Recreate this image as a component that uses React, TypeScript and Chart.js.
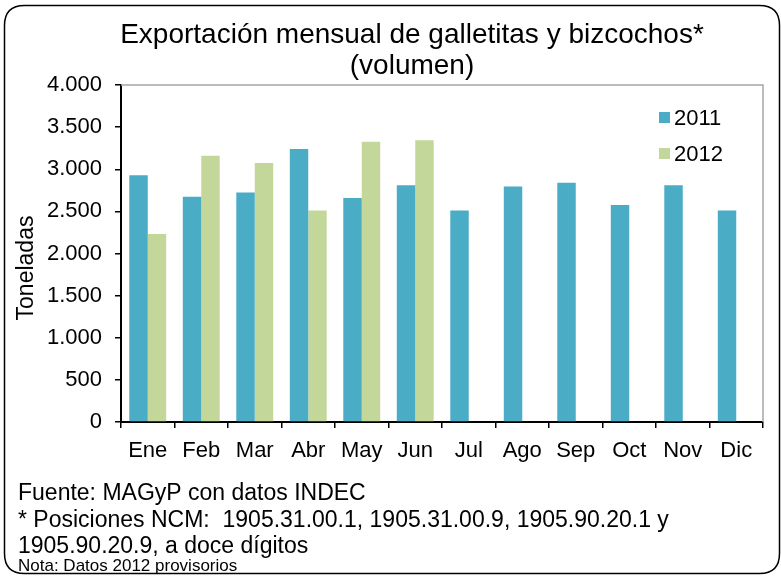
import React, { useEffect, useRef } from "react";
import { Chart, registerables } from "chart.js";

Chart.register(...registerables);

const months = ["Ene", "Feb", "Mar", "Abr", "May", "Jun", "Jul", "Ago", "Sep", "Oct", "Nov", "Dic"];
const values2011 = [2930, 2675, 2725, 3240, 2660, 2810, 2510, 2795, 2840, 2575, 2810, 2510];
const values2012 = [2230, 3160, 3075, 2510, 3325, 3345, null, null, null, null, null, null];
const seriesLabels = ["2011", "2012"];
const seriesColors = ["#4BACC6", "#C4D79B"];
const titleLines = ["Exportación mensual de galletitas y bizcochos*", "(volumen)"];
const yAxisTitle = "Toneladas";
const footnotes = [
  "Fuente: MAGyP con datos INDEC",
  "* Posiciones NCM:  1905.31.00.1, 1905.31.00.9, 1905.90.20.1 y",
  "1905.90.20.9, a doce dígitos",
];
const nota = "Nota: Datos 2012 provisorios";

const FONT = "Arial, 'Liberation Sans', sans-serif";

const fmt = (v: number) => String(v).replace(/\B(?=(\d{3})+(?!\d))/g, ".");

const decorPlugin = {
  id: "decor",
  beforeDraw(chart: any) {
    const ctx = chart.ctx;
    ctx.save();
    ctx.fillStyle = "#fff";
    ctx.fillRect(0, 0, chart.width, chart.height);
    const x0 = 4.5, y0 = 5.5, x1 = 779.5, y1 = 573.5, r = 20;
    ctx.beginPath();
    ctx.moveTo(x0 + r, y0);
    ctx.lineTo(x1 - r, y0);
    ctx.quadraticCurveTo(x1, y0, x1, y0 + r);
    ctx.lineTo(x1, y1 - r);
    ctx.quadraticCurveTo(x1, y1, x1 - r, y1);
    ctx.lineTo(x0 + r, y1);
    ctx.quadraticCurveTo(x0, y1, x0, y1 - r);
    ctx.lineTo(x0, y0 + r);
    ctx.quadraticCurveTo(x0, y0, x0 + r, y0);
    ctx.closePath();
    ctx.strokeStyle = "#000";
    ctx.lineWidth = 1.5;
    ctx.stroke();
    ctx.restore();
  },
  beforeDatasetsDraw(chart: any) {
    const { ctx, chartArea } = chart;
    ctx.save();
    ctx.strokeStyle = "#a6a6a6";
    ctx.lineWidth = 1.5;
    ctx.beginPath();
    ctx.moveTo(chartArea.left, chartArea.top);
    ctx.lineTo(chartArea.right, chartArea.top);
    ctx.lineTo(chartArea.right, chartArea.bottom);
    ctx.stroke();
    ctx.restore();
  },
  afterDraw(chart: any) {
    const ctx = chart.ctx;
    ctx.save();
    ctx.fillStyle = "#000";
    ctx.font = `28px ${FONT}`;
    ctx.textAlign = "center";
    ctx.textBaseline = "alphabetic";
    ctx.fillText(titleLines[0], 412, 43);
    ctx.fillText(titleLines[1], 412, 74);
    ctx.save();
    ctx.translate(33, 268);
    ctx.rotate(-Math.PI / 2);
    ctx.font = `23px ${FONT}`;
    ctx.textAlign = "center";
    ctx.textBaseline = "alphabetic";
    ctx.fillText(yAxisTitle, 0, 0);
    ctx.restore();
    const ds = chart.data.datasets;
    ctx.font = `22px ${FONT}`;
    ctx.textAlign = "left";
    ctx.textBaseline = "middle";
    ds.forEach((d: any, i: number) => {
      const cy = 118 + i * 36;
      ctx.fillStyle = d.backgroundColor;
      ctx.fillRect(659, cy - 6, 11, 11);
      ctx.fillStyle = "#000";
      ctx.fillText(d.label, 674, cy + 1);
    });
    ctx.font = `23px ${FONT}`;
    ctx.textBaseline = "alphabetic";
    footnotes.forEach((t, i) => ctx.fillText(t, 18, 500 + i * 26.5));
    ctx.font = `17px ${FONT}`;
    ctx.fillText(nota, 18, 571);
    ctx.restore();
  },
};

export default function App() {
  const ref = useRef<HTMLCanvasElement>(null);
  useEffect(() => {
    if (!ref.current) return;
    const chart = new Chart(ref.current, {
      type: "bar",
      data: {
        labels: months,
        datasets: [
          { label: seriesLabels[0], data: values2011, backgroundColor: seriesColors[0], borderWidth: 0 },
          { label: seriesLabels[1], data: values2012 as any, backgroundColor: seriesColors[1], borderWidth: 0 },
        ],
      },
      options: {
        responsive: false,
        animation: false,
        devicePixelRatio: 1,
        layout: { padding: { top: 85, right: 18, left: 0, bottom: 114 } },
        datasets: { bar: { barPercentage: 1, categoryPercentage: 0.69 } },
        plugins: { legend: { display: false }, title: { display: false }, tooltip: { enabled: false } },
        scales: {
          x: {
            grid: { display: true, drawOnChartArea: false, drawTicks: true, tickLength: 6, color: "#000", lineWidth: 1.5, offset: true },
            border: { display: true, color: "#000", width: 2 },
            ticks: { font: { size: 22, family: FONT }, color: "#000", padding: 10, maxRotation: 0, autoSkip: false },
            afterFit: (s: any) => { s.height = 40; },
          },
          y: {
            min: 0,
            max: 4000,
            grid: { display: true, drawOnChartArea: false, drawTicks: true, tickLength: 6, color: "#000", lineWidth: 1.5 },
            border: { display: true, color: "#000", width: 2 },
            ticks: { stepSize: 500, font: { size: 22, family: FONT }, color: "#000", padding: 13, callback: (v: any) => fmt(Number(v)) },
            afterFit: (s: any) => { s.width = 121; },
          },
        },
      },
      plugins: [decorPlugin],
    });
    return () => chart.destroy();
  }, []);
  return (
    <div style={{ position: "absolute", left: 0, top: 0, width: 781, height: 576 }}>
      <canvas ref={ref} width={781} height={576} style={{ width: 781, height: 576, display: "block" }} />
    </div>
  );
}
